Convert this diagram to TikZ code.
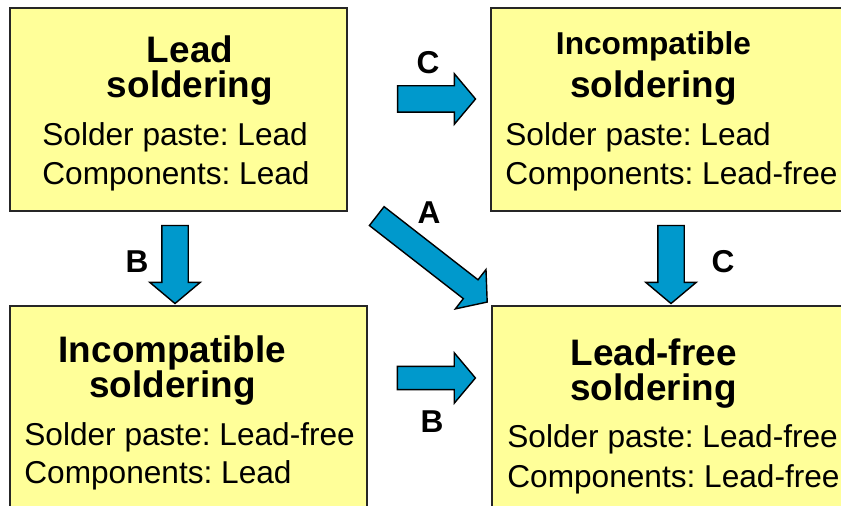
\documentclass[tikz,border=0pt]{standalone}
\usepackage{fontspec}
\setmainfont{Liberation Sans}
\usetikzlibrary{shapes.arrows}
\definecolor{padyellow}{RGB}{255,255,153}
\definecolor{flowblue}{RGB}{0,153,204}
\frenchspacing

\begin{document}
\begin{tikzpicture}[x=0.02cm, y=-0.02cm,
  solderbox/.style={draw=black!85, line width=1.1pt, fill=padyellow, minimum height=4.06cm},
  flowarrow/.style={single arrow, draw=black, line width=0.8pt, fill=flowblue, inner xsep=0pt, inner ysep=0.25cm, text height=0pt, text depth=0pt, single arrow head extend=0.24cm, single arrow tip angle=100, minimum height=1.56cm},
  headline/.style={anchor=base, inner sep=0pt, font=\fontsize{21}{25}\selectfont\bfseries},
  bodyline/.style={anchor=base west, inner sep=0pt, font=\fontsize{18}{22}\selectfont},
  steplabel/.style={font=\fontsize{18}{22}\selectfont\bfseries}]
\useasboundingbox (0,0) rectangle (841,506);
\clip (0,0) rectangle (841,506);
% the four soldering cases
\node[solderbox, minimum width=6.74cm] at (178.5,109.5) (lead) {};
\node[solderbox, minimum width=7.2cm] at (671,109.5) (mixup) {};
\node[solderbox, minimum width=7.14cm, minimum height=4.28cm] at (188.5,413) (mixdown) {};
\node[solderbox, minimum width=7.2cm, minimum height=4.28cm] at (672,413) (free) {};
\node[headline] at (190,63) (leadT1) {Lead};
\node[headline] at (190,98) (leadT2) {soldering};
\node[bodyline] at (42,146) (leadP) {Solder paste: Lead};
\node[bodyline] at (42,185) (leadC) {Components: Lead};
\node[headline, font=\fontsize{18}{22}\selectfont\bfseries] at (653.5,55) (mixupT1) {Incompatible};
\node[headline] at (653.5,98) (mixupT2) {soldering};
\node[bodyline] at (505,146) (mixupP) {Solder paste: Lead};
\node[bodyline] at (505,185) (mixupC) {Components: Lead-free};
\node[headline] at (172.5,362) (mixdownT1) {Incompatible};
\node[headline] at (172.5,397) (mixdownT2) {soldering};
\node[bodyline] at (24,445) (mixdownP) {Solder paste: Lead-free};
\node[bodyline] at (24,483) (mixdownC) {Components: Lead};
\node[headline] at (653.5,365) (freeT1) {Lead-free};
\node[headline] at (653.5,400) (freeT2) {soldering};
\node[bodyline] at (507,447) (freeP) {Solder paste: Lead-free};
\node[bodyline] at (507,487) (freeC) {Components: Lead-free};
% routes between them
\node[flowarrow] at (431,99) (routeC1) {};
\node[steplabel] at (428,63) (routeC1L) {C};
\node[flowarrow, rotate=-90] at (175,259) (routeB1) {};
\node[steplabel] at (137,262) (routeB1L) {B};
\node[flowarrow, rotate=-90] at (671,259) (routeC2) {};
\node[steplabel] at (723,262) (routeC2L) {C};
\node[flowarrow, inner ysep=0.22cm, single arrow head extend=0.27cm] at (431.5,378) (routeB2) {};
\node[steplabel] at (432,422) (routeB2L) {B};
\node[flowarrow, inner ysep=0.225cm, single arrow head extend=0.26cm, minimum height=2.8cm, rotate=-37.9] at (428,256) (routeA) {};
\node[steplabel] at (429,213) (routeAL) {A};
\end{tikzpicture}
\end{document}
